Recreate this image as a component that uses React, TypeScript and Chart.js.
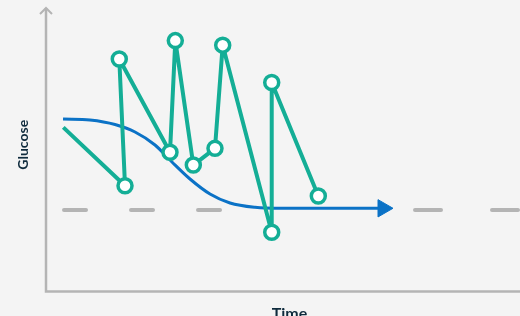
import React, { useEffect, useRef } from "react";
import { Chart, registerables } from "chart.js";

Chart.register(...registerables);

// Green readings (time, glucose) – drawn in order, zigzag
const readingTimes = [3.65, 16.67, 15.46, 26.16, 27.28, 31.08, 35.65, 37.28, 47.62, 47.62, 57.45];
const readingValues = [57.9, 37.3, 82.0, 49.1, 88.5, 44.6, 50.5, 86.9, 20.9, 73.7, 33.7];

// Blue smooth trend
const trendTimes = [3.59, 9.28, 14.56, 18.78, 23.0, 26.58, 30.38, 34.6, 38.82, 44.09, 49.37, 71.1];
const trendValues = [60.85, 60.49, 58.91, 56.26, 51.68, 45.68, 39.68, 34.39, 31.22, 29.7, 29.35, 29.35];

// Target (dashed) level
const targetLevel = 28.75;
const targetLeftTimes = [3.8, 36.9];
const targetRightTimes = [77.85, 100];

const xTitle = "Time";
const yTitle = "Glucose";

const GREEN = "#14ae96";
const BLUE = "#0b72c6";
const GREY = "#b4b4b4";
const TEXT = "#0f2b3d";

export default function App() {
  const ref = useRef<HTMLCanvasElement | null>(null);

  useEffect(() => {
    if (!ref.current) return;
    const axesPlugin = {
      id: "axesPlugin",
      beforeDatasetsDraw(chart: any) {
        const { ctx, chartArea } = chart;
        const { left, right, top, bottom } = chartArea;
        ctx.save();
        ctx.strokeStyle = GREY;
        ctx.lineWidth = 2.5;
        ctx.lineCap = "butt";
        ctx.beginPath();
        ctx.moveTo(left, top);
        ctx.lineTo(left, bottom);
        ctx.lineTo(right, bottom);
        ctx.stroke();
        // y-axis arrow chevron
        ctx.lineWidth = 2;
        ctx.beginPath();
        ctx.moveTo(left - 6, top + 6);
        ctx.lineTo(left, top);
        ctx.lineTo(left + 6, top + 6);
        ctx.stroke();
        // titles
        ctx.fillStyle = TEXT;
        ctx.font = "bold 14px Lato";
        ctx.textAlign = "center";
        ctx.textBaseline = "middle";
        ctx.save();
        ctx.translate(left - 22.5, (top + bottom) / 2 - 5);
        ctx.rotate(-Math.PI / 2);
        ctx.fillText(yTitle, 0, 0);
        ctx.restore();
        ctx.font = "bold 16px Lato";
        ctx.textBaseline = "top";
        ctx.fillText(xTitle, 289.5, bottom + 14);
        ctx.restore();
      },
    };

    const trendRadius = trendTimes.map((_, i) => (i === trendTimes.length - 1 ? 10 : 0));
    const readingRadius = readingTimes.map((_, i) => (i === 0 ? 0 : 7));

    const chart = new Chart(ref.current, {
      type: "scatter",
      data: {
        datasets: [
          {
            data: readingTimes.map((x, i) => ({ x, y: readingValues[i] })),
            showLine: true,
            borderColor: GREEN,
            borderWidth: 4,
            borderJoinStyle: "round",
            backgroundColor: "#ffffff",
            pointBackgroundColor: "#ffffff",
            pointBorderColor: GREEN,
            pointBorderWidth: 3.5,
            pointRadius: readingRadius,
            tension: 0,
          },
          {
            data: trendTimes.map((x, i) => ({ x, y: trendValues[i] })),
            showLine: true,
            borderColor: BLUE,
            borderWidth: 3,
            cubicInterpolationMode: "monotone",
            pointStyle: "triangle",
            rotation: 90,
            pointRadius: trendRadius,
            pointBackgroundColor: BLUE,
            pointBorderColor: BLUE,
            pointBorderWidth: 1,
          },
          {
            data: targetLeftTimes.map((x) => ({ x, y: targetLevel })),
            showLine: true,
            borderColor: GREY,
            borderWidth: 4,
            borderDash: [22, 45],
            borderCapStyle: "round",
            pointRadius: 0,
          },
          {
            data: targetRightTimes.map((x) => ({ x, y: targetLevel })),
            showLine: true,
            borderColor: GREY,
            borderWidth: 4,
            borderDash: [26, 51],
            borderCapStyle: "round",
            pointRadius: 0,
          },
        ],
      },
      options: {
        animation: false,
        responsive: false,
        maintainAspectRatio: false,
        clip: false,
        layout: { autoPadding: false, padding: { left: 46, right: 0, top: 8, bottom: 24.5 } },
        plugins: { legend: { display: false }, tooltip: { enabled: false } },
        scales: {
          x: { type: "linear", min: 0, max: 100, display: false },
          y: { type: "linear", min: 0, max: 100, display: false },
        },
      },
      plugins: [axesPlugin],
    } as any);
    return () => chart.destroy();
  }, []);

  return (
    <div
      style={{
        position: "fixed",
        left: 0,
        top: 0,
        width: 520,
        height: 316,
        background: "#f4f4f4",
        overflow: "hidden",
      }}
    >
      <canvas ref={ref} width={520} height={316} style={{ width: 520, height: 316, display: "block" }} />
    </div>
  );
}
